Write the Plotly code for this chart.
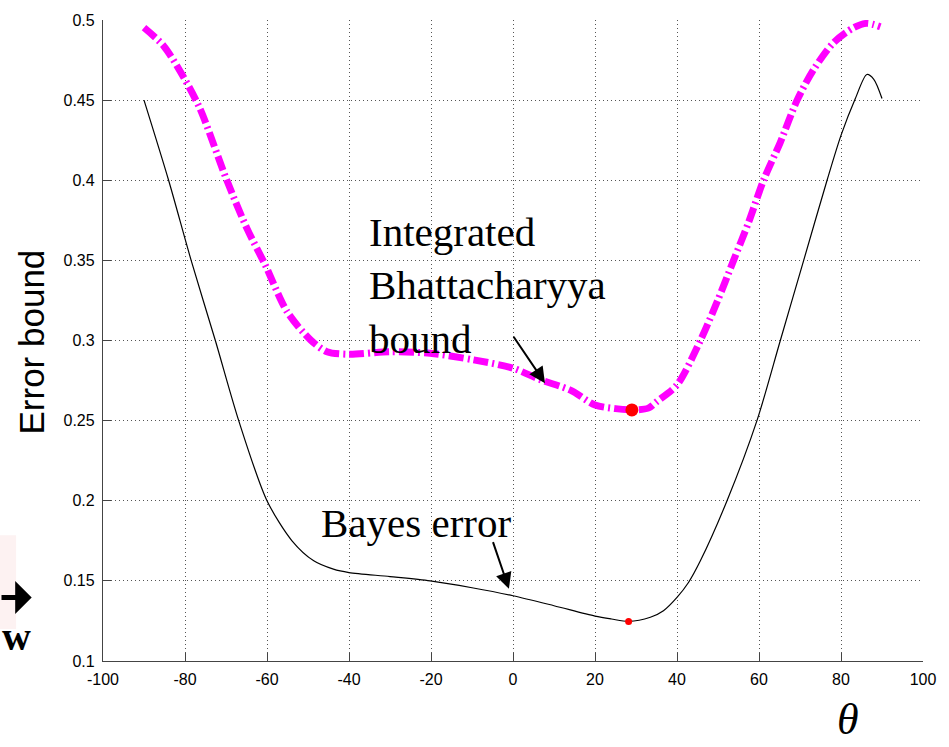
import plotly.graph_objects as go

# Bayes error as a function of projection angle theta (degrees)
theta_bayes = [-90, -84, -78.5, -72.6, -66.9, -60, -53.9, -48.6, -43.8, -40, -30, -20.2,
               -10, 0, 10, 20, 24, 28.2, 33.5, 36.7, 40, 42.8, 45.7, 52.2, 59.5, 65.2,
               70.9, 76.6, 80, 83.5, 86.3, 88, 90]
err_bayes = [0.450, 0.400, 0.350, 0.300, 0.250, 0.200, 0.175, 0.1625, 0.1573, 0.1552,
             0.1527, 0.150, 0.1457, 0.1407, 0.1345, 0.128, 0.1262, 0.1247, 0.1273, 0.1314,
             0.1397, 0.149, 0.1625, 0.200, 0.250, 0.300, 0.350, 0.400, 0.428, 0.451,
             0.466, 0.463, 0.451]

# Integrated Bhattacharyya bound
theta_bhatt = [-90, -85.2, -80.3, -76.3, -69.8, -64.9, -60.4, -55.1, -49.4, -45.4, -40,
               -29.9, -20.2, -9.6, 0, 6.7, 14, 20, 25, 29, 33, 35.1, 40, 45.7, 49.8, 53.8,
               57.5, 61.1, 65.2, 69.3, 73.3, 78.2, 83.1, 86.3, 89.6]
err_bhatt = [0.4952, 0.4838, 0.4641, 0.4444, 0.400, 0.370, 0.347, 0.318, 0.3004, 0.293,
             0.2914, 0.293, 0.292, 0.2879, 0.2827, 0.2755, 0.269, 0.2598, 0.2575, 0.2567,
             0.2578, 0.262, 0.2723, 0.300, 0.3242, 0.350, 0.374, 0.400, 0.4237, 0.450,
             0.469, 0.4859, 0.4952, 0.4979, 0.4958]

# Minima of each curve
min_bayes = (28.2, 0.1247)
min_bhatt = (29.0, 0.2567)

x_ticks = [-100, -80, -60, -40, -20, 0, 20, 40, 60, 80, 100]
x_tick_text = ["-100", "-80", "-60", "-40", "-20", "0", "20", "40", "60", "80", "100"]
y_ticks = [0.1, 0.15, 0.2, 0.25, 0.3, 0.35, 0.4, 0.45, 0.5]
y_tick_text = ["0.1", "0.15", "0.2", "0.25", "0.3", "0.35", "0.4", "0.45", "0.5"]

SERIF = "Liberation Serif, Times New Roman, serif"
SANS = "Liberation Sans, Arial, sans-serif"

fig = go.Figure()

fig.add_trace(go.Scatter(
    x=theta_bayes, y=err_bayes, mode="lines",
    line=dict(color="black", width=1.2, shape="spline", smoothing=0.8),
    showlegend=False))

fig.add_trace(go.Scatter(
    x=theta_bhatt, y=err_bhatt, mode="lines",
    line=dict(color="#ff00ff", width=7, dash="15px,4px,2px,4px",
              shape="spline", smoothing=0.8),
    showlegend=False))

fig.add_trace(go.Scatter(
    x=[min_bhatt[0]], y=[min_bhatt[1]], mode="markers",
    marker=dict(color="#ff0000", size=13), showlegend=False))

fig.add_trace(go.Scatter(
    x=[min_bayes[0]], y=[min_bayes[1]], mode="markers",
    marker=dict(color="#ff0000", size=7), showlegend=False))

axis_common = dict(
    showline=True, linecolor="#444444", linewidth=1.3, mirror=False,
    showgrid=True, gridcolor="#555555", gridwidth=1, griddash="1px,3px",
    ticks="inside", ticklen=8, tickcolor="#444444", tickwidth=1.3,
    zeroline=False, tickfont=dict(family=SANS, size=16, color="black"),
)

fig.update_xaxes(range=[-100, 100], tickvals=x_ticks, ticktext=x_tick_text,
                 ticklabelstandoff=4, **axis_common)
fig.update_yaxes(range=[0.1, 0.5], tickvals=y_ticks, ticktext=y_tick_text,
                 ticklabelstandoff=4, **axis_common)

annotations = [
    # curve labels
    dict(x=-35.5, y=0.3830, xref="x", yref="y", xanchor="left", yanchor="top",
         align="left", showarrow=False,
         text="Integrated<br>Bhattacharyya<br>bound",
         font=dict(family=SERIF, size=41, color="black")),
    dict(x=-47.2, y=0.2017, xref="x", yref="y", xanchor="left", yanchor="top",
         showarrow=False, text="Bayes error",
         font=dict(family=SERIF, size=41, color="black")),
    # pointer arrows
    dict(x=7.8, y=0.2734, ax=-0.1, ay=0.3033, xref="x", yref="y", axref="x", ayref="y",
         text="", showarrow=True, arrowhead=2, arrowsize=1.6, arrowwidth=2,
         arrowcolor="black"),
    dict(x=-1.0, y=0.1451, ax=-5.0, ay=0.1751, xref="x", yref="y", axref="x", ayref="y",
         text="", showarrow=True, arrowhead=2, arrowsize=1.6, arrowwidth=2,
         arrowcolor="black"),
    # axis titles
    dict(x=-0.0866, y=0.4984, xref="paper", yref="paper", xanchor="center",
         yanchor="middle", textangle=-90, showarrow=False, text="Error bound",
         font=dict(family=SANS, size=35, color="black")),
    dict(x=0.9085, y=-0.0916, xref="paper", yref="paper", xanchor="center",
         yanchor="middle", showarrow=False,
         text="<i>θ</i>", font=dict(family=SERIF, size=44, color="black")),
    # neighbouring slide content at the left edge
    dict(x=-0.087, y=0.0992, ax=-32, ay=0, xref="paper", yref="paper",
         axref="pixel", ayref="pixel", text="", showarrow=True, arrowhead=1,
         arrowsize=1.1, arrowwidth=5, arrowcolor="black"),
    dict(x=-0.1256, y=0.0, xref="paper", yref="paper", xanchor="left", yanchor="bottom",
         showarrow=False, text="<b>w</b>",
         font=dict(family=SERIF, size=40, color="black")),
]

fig.update_layout(
    width=949, height=747,
    margin=dict(l=103, r=26, t=17, b=86),
    plot_bgcolor="white", paper_bgcolor="white",
    annotations=annotations,
    shapes=[dict(type="rect", xref="paper", yref="paper",
                 x0=-0.13, x1=-0.106, y0=0.05, y1=0.196,
                 fillcolor="#fdf2f2", line=dict(width=0), layer="below")],
)

fig.write_html("out.html")
